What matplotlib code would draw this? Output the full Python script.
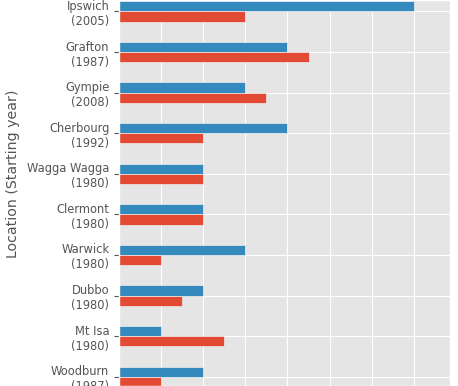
import numpy as np
import matplotlib
matplotlib.use('Agg')
import matplotlib.pyplot as plt

plt.style.use('ggplot')

# data (top to bottom)
locations = ['Ipswich', 'Grafton', 'Gympie', 'Cherbourg', 'Wagga Wagga',
             'Clermont', 'Warwick', 'Dubbo', 'Mt Isa', 'Woodburn']
start_years = [2005, 1987, 2008, 1992, 1980, 1980, 1980, 1980, 1980, 1987]
series_blue = [7, 4, 3, 4, 2, 2, 3, 2, 1, 2]
series_red = [3, 4.5, 3.5, 2, 2, 2, 1, 1.5, 2.5, 1]

labels = ['%s\n(%d)' % (loc, yr) for loc, yr in zip(locations, start_years)]
y = np.arange(len(locations))
h = 0.25

fig = plt.figure(figsize=(4.58, 3.86), dpi=100)
ax = fig.add_axes([119/458., 0.0, 331/458., 1.0])

ax.barh(y - h/2, series_blue, height=h, color='#348ABD',
        edgecolor='#EEEEEE', linewidth=0.5)
ax.barh(y + h/2, series_red, height=h, color='#E24A33',
        edgecolor='#EEEEEE', linewidth=0.5)

ax.set_yticks(y)
ax.set_yticklabels(labels, fontsize=8.3, color='#555555')
ax.set_xticks(np.arange(0, 8))
ax.tick_params(axis='x', labelbottom=False)  # x tick labels fall outside the crop
ax.set_xlim(0, 7.86)
ax.set_ylim(9.229, -0.283)

ax.set_ylabel('Location (Starting year)', fontsize=10.2, color='#555555')
ax.yaxis.set_label_coords(-0.30, 1 - 174/386.)

fig.savefig('out.png', dpi=100)
